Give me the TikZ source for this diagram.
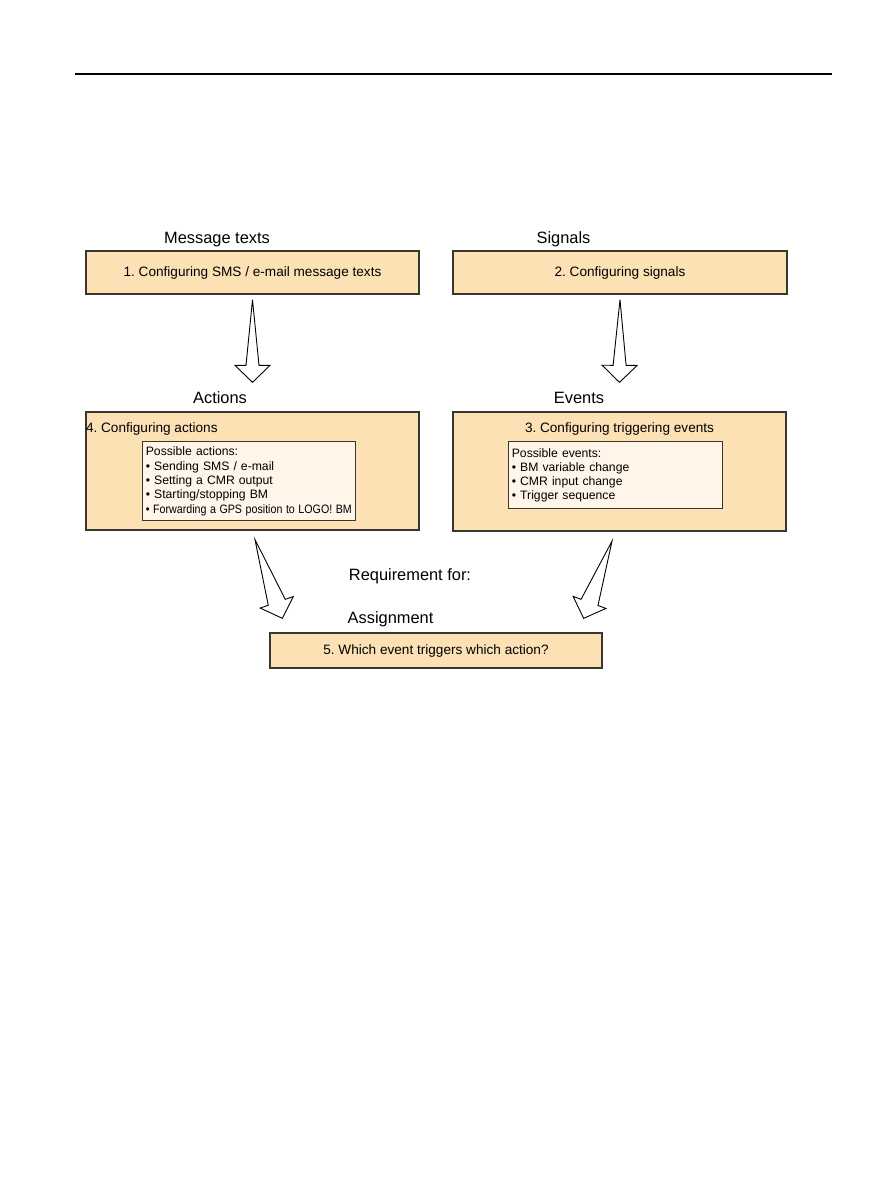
\documentclass[tikz,border=0pt]{standalone}
\usepackage{fontspec}
\setmainfont{Liberation Sans}
\usetikzlibrary{calc,positioning}
\frenchspacing

\definecolor{boxfill}{RGB}{252,225,181}
\definecolor{listfill}{RGB}{255,246,233}
\definecolor{boxline}{RGB}{58,56,44}

\tikzset{
	stage/.style={draw=boxline, line width=1.3pt, fill=boxfill, inner sep=0pt, font=\fontsize{13.6}{16}\selectfont},
	stagetitle/.style={anchor=base, inner sep=0pt, font=\fontsize{13.6}{16}\selectfont},
	stagelabel/.style={anchor=base, inner sep=0pt, font=\fontsize{16.4}{19}\selectfont},
	listbox/.style={draw=boxline, line width=1pt, fill=listfill, align=left, anchor=north west, inner xsep=3pt, inner ysep=0pt, font=\fontsize{12.2}{14.3}\selectfont},
	hollowarrow/.style={draw=black, line width=0.9pt, fill=white, line join=miter},
}

% tapered block arrow: start, tip, half width of the shaft at the head
\newcommand{\blockarrow}[3]{%
	\coordinate (ba-h) at ($(#2)!17pt!(#1)$);
	\draw[hollowarrow] (#1) -- ($(ba-h)!#3!90:(#2)$) -- ($(ba-h)!17.5pt!90:(#2)$) -- (#2)
		-- ($(ba-h)!17.5pt!-90:(#2)$) -- ($(ba-h)!#3!-90:(#2)$) -- cycle;
}

\begin{document}
\begin{tikzpicture}[x=1pt, y=-1pt]
		\useasboundingbox (0,0) rectangle (893,1191);
		
		% Page rule
		\draw[line width=1.5pt] (75,74) -- (832,74);
		
		% Stages
		\node[stage, minimum width=333pt, minimum height=43pt] (msgs) at (252.5,272.5) {1. Configuring SMS / e-mail message texts};
		\node[stage, minimum width=334pt, minimum height=43pt] (sigs) at (620,272.5) {2. Configuring signals};
		\node[stage, minimum width=333pt, minimum height=118pt] (acts) at (252.5,471) {};
		\node[stage, minimum width=333pt, minimum height=119pt] (evts) at (619.5,471.5) {};
		\node[stage, minimum width=332pt, minimum height=35pt] (assign) at (436,650.5) {5. Which event triggers which action?};
		
		% Labels above the stages
		\node[stagelabel] (msgslbl) at (217,243) {Message texts};
		\node[stagelabel] (sigslbl) at (563.5,243) {Signals};
		\node[stagelabel] (actslbl) at (220,403) {Actions};
		\node[stagelabel] (evtslbl) at (579,403) {Events};
		\node[stagelabel] (reqlbl) at (410,580) {Requirement for:};
		\node[stagelabel] (assignlbl) at (390.5,623) {Assignment};
		
		% Titles and lists inside stages 4 and 3
		\node[stagetitle, anchor=base west] (actstitle) at ($(acts.north west)+(0.5,21)$) {4. Configuring actions};
		\node[stagetitle] (evtstitle) at ($(evts.north)+(0,21)$) {3. Configuring triggering events};
		\node[listbox, text width=207pt, minimum height=79pt] (actslist) at ($(acts.north west)+(57,30)$)
			{Possible actions:\\ • Sending SMS / e-mail\\ • Setting a CMR output\\ • Starting/stopping BM\\ \scalebox{0.875}[1]{• Forwarding a GPS position to LOGO! BM}};
		\node[listbox, text width=208pt, minimum height=67pt] (evtslist) at ($(evts.north west)+(56,30)$)
			{Possible events:\\ • BM variable change\\ • CMR input change\\ • Trigger sequence};
		
		% Arrow ends
		\coordinate (a1) at ($(msgs.south)+(0,5)$);
		\coordinate (b1) at ($(acts.north)+(0,-29)$);
		\coordinate (a2) at ($(sigs.south)+(0,5)$);
		\coordinate (b2) at ($(evts.north)+(0,-29)$);
		\coordinate (a3) at ($(acts.south)+(2.5,9)$);
		\coordinate (b3) at ($(assign.north west)+(13,-14)$);
		\coordinate (a4) at ($(evts.south)+(-7.5,9.5)$);
		\coordinate (b4) at ($(assign.north east)+(-19,-14)$);
		
		% Arrows
		\blockarrow{a1}{b1}{6.5pt}
		\blockarrow{a2}{b2}{6.5pt}
		\blockarrow{a3}{b3}{9pt}
		\blockarrow{a4}{b4}{9pt}
		
	\end{tikzpicture}
\end{document}
